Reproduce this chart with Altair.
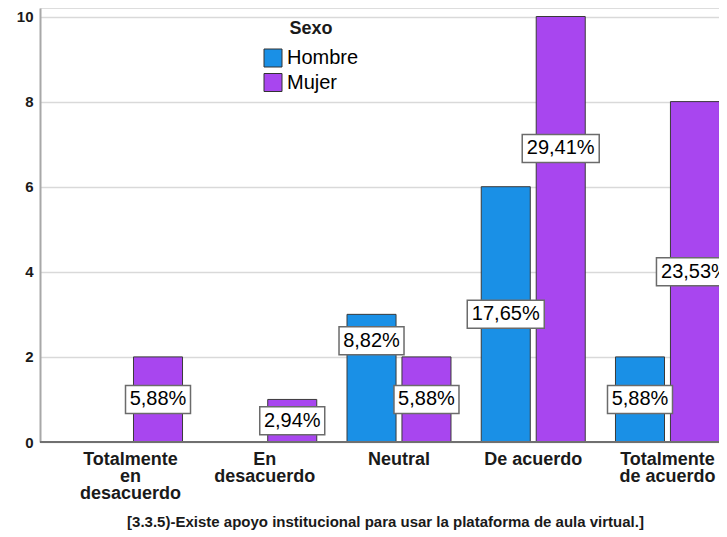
import altair as alt
import pandas as pd

categories = ["Totalmente|en|desacuerdo", "En|desacuerdo", "Neutral", "De acuerdo", "Totalmente|de acuerdo"]
sexos = ["Hombre", "Mujer"]
hombre = [0, 0, 3, 6, 2]
mujer = [2, 1, 2, 10, 8]
# where each percentage label sits on the value axis (as in the original)
hombre_label_at = [0, 0, 2.38, 3.0, 1.0]
mujer_label_at = [1.0, 0.5, 1.0, 6.9, 4.0]
y_ticks = [0, 2, 4, 6, 8, 10]
total = sum(hombre) + sum(mujer)

rows = []
for i, c in enumerate(categories):
    for s, vals, labs in (("Hombre", hombre, hombre_label_at), ("Mujer", mujer, mujer_label_at)):
        v = vals[i]
        pct = f"{v / total * 100:.2f}".replace(".", ",") + "%"
        rows.append({"cat": c, "sexo": s, "n": v, "pct": pct, "lab_at": labs[i]})
df = pd.DataFrame(rows)

FONT = "Liberation Sans"
ydom = [0, 10.2]

x_enc = alt.X(
    "cat:N",
    sort=categories,
    scale=alt.Scale(domain=categories, range=[0, 718], paddingInner=0.2253, paddingOuter=0.287),
    axis=alt.Axis(
        title="[3.3.5)-Existe apoyo institucional para usar la plataforma de aula virtual.]",
        labelExpr="split(datum.value, '|')",
        labelAngle=0,
        labelFont=FONT,
        labelFontSize=18,
        labelFontWeight="bold",
        labelLineHeight=17.3,
        labelColor="#1a1a1a",
        labelPadding=8,
        ticks=False,
        domain=False,
        grid=False,
        titleFont=FONT,
        titleFontSize=15,
        titleFontWeight="bold",
        titleColor="#1a1a1a",
        titlePadding=12,
        titleX=345,
    ),
)
xo_enc = alt.XOffset("sexo:N", scale=alt.Scale(domain=sexos, paddingInner=0.108, paddingOuter=0))

y_axis = alt.Axis(
    values=y_ticks,
    title=None,
    ticks=False,
    labelPadding=7,
    labelFont=FONT,
    labelFontSize=15,
    labelFontWeight="bold",
    labelColor="#1a1a1a",
    domainColor="#a8a8a8",
    domainWidth=2,
    gridColor="#d9d9d9",
    gridWidth=1.5,
)
y_scale = alt.Scale(domain=ydom, nice=False)

base = alt.Chart(df)

bars = base.mark_bar(stroke="#3a3a3a", strokeWidth=1, clip=True).encode(
    x=x_enc,
    xOffset=xo_enc,
    y=alt.Y("n:Q", scale=y_scale, axis=y_axis),
    color=alt.Color(
        "sexo:N",
        scale=alt.Scale(domain=sexos, range=["#1a90e6", "#a846ef"]),
        legend=alt.Legend(
            title="Sexo",
            orient="none",
            legendX=223,
            legendY=12,
            titleAnchor="middle",
            titleFont=FONT,
            titleFontSize=18,
            titleFontWeight="bold",
            titleColor="#1a1a1a",
            titlePadding=10,
            labelFont=FONT,
            labelFontSize=20,
            labelColor="#000000",
            labelOffset=4,
            symbolType="square",
            symbolSize=324,
            symbolStrokeColor="#333333",
            symbolStrokeWidth=1,
            rowPadding=2.5,
            padding=0,
        ),
    ),
).transform_filter("datum.n > 0")

ylab = alt.Y("lab_at:Q", scale=y_scale, axis=y_axis)

box_short = base.mark_point(
    shape="M-1,-0.431H1V0.431H-1Z", size=4225, filled=True, fill="white",
    stroke="#6b6b6b", strokeWidth=1.5, opacity=1, clip=True,
).encode(x=x_enc, xOffset=xo_enc, y=ylab).transform_filter("datum.n > 0 && length(datum.pct) == 5")

box_long = base.mark_point(
    shape="M-1,-0.3636H1V0.3636H-1Z", size=5929, filled=True, fill="white",
    stroke="#6b6b6b", strokeWidth=1.5, opacity=1, clip=True,
).encode(x=x_enc, xOffset=xo_enc, y=ylab).transform_filter("datum.n > 0 && length(datum.pct) == 6")

labels = base.mark_text(
    font=FONT, fontSize=20, color="#000000", baseline="middle", align="center", clip=True,
).encode(x=x_enc, xOffset=xo_enc, y=ylab, text="pct:N").transform_filter("datum.n > 0")

baseline = alt.Chart(pd.DataFrame({"v": [0]})).mark_rule(color="#707070", strokeWidth=2).encode(
    y=alt.Y("v:Q", scale=y_scale, axis=y_axis)
)

chart = (
    alt.layer(bars, baseline, box_short, box_long, labels)
    .properties(
        width=679,
        height=434,
        autosize=alt.AutoSizeParams(type="none"),
        padding={"left": 32, "top": 0, "right": 0, "bottom": 90},
    )
    .configure_view(stroke=None)
    .configure(background="white")
)

chart.save("out.html", embed_options={"renderer": "svg", "actions": False})
